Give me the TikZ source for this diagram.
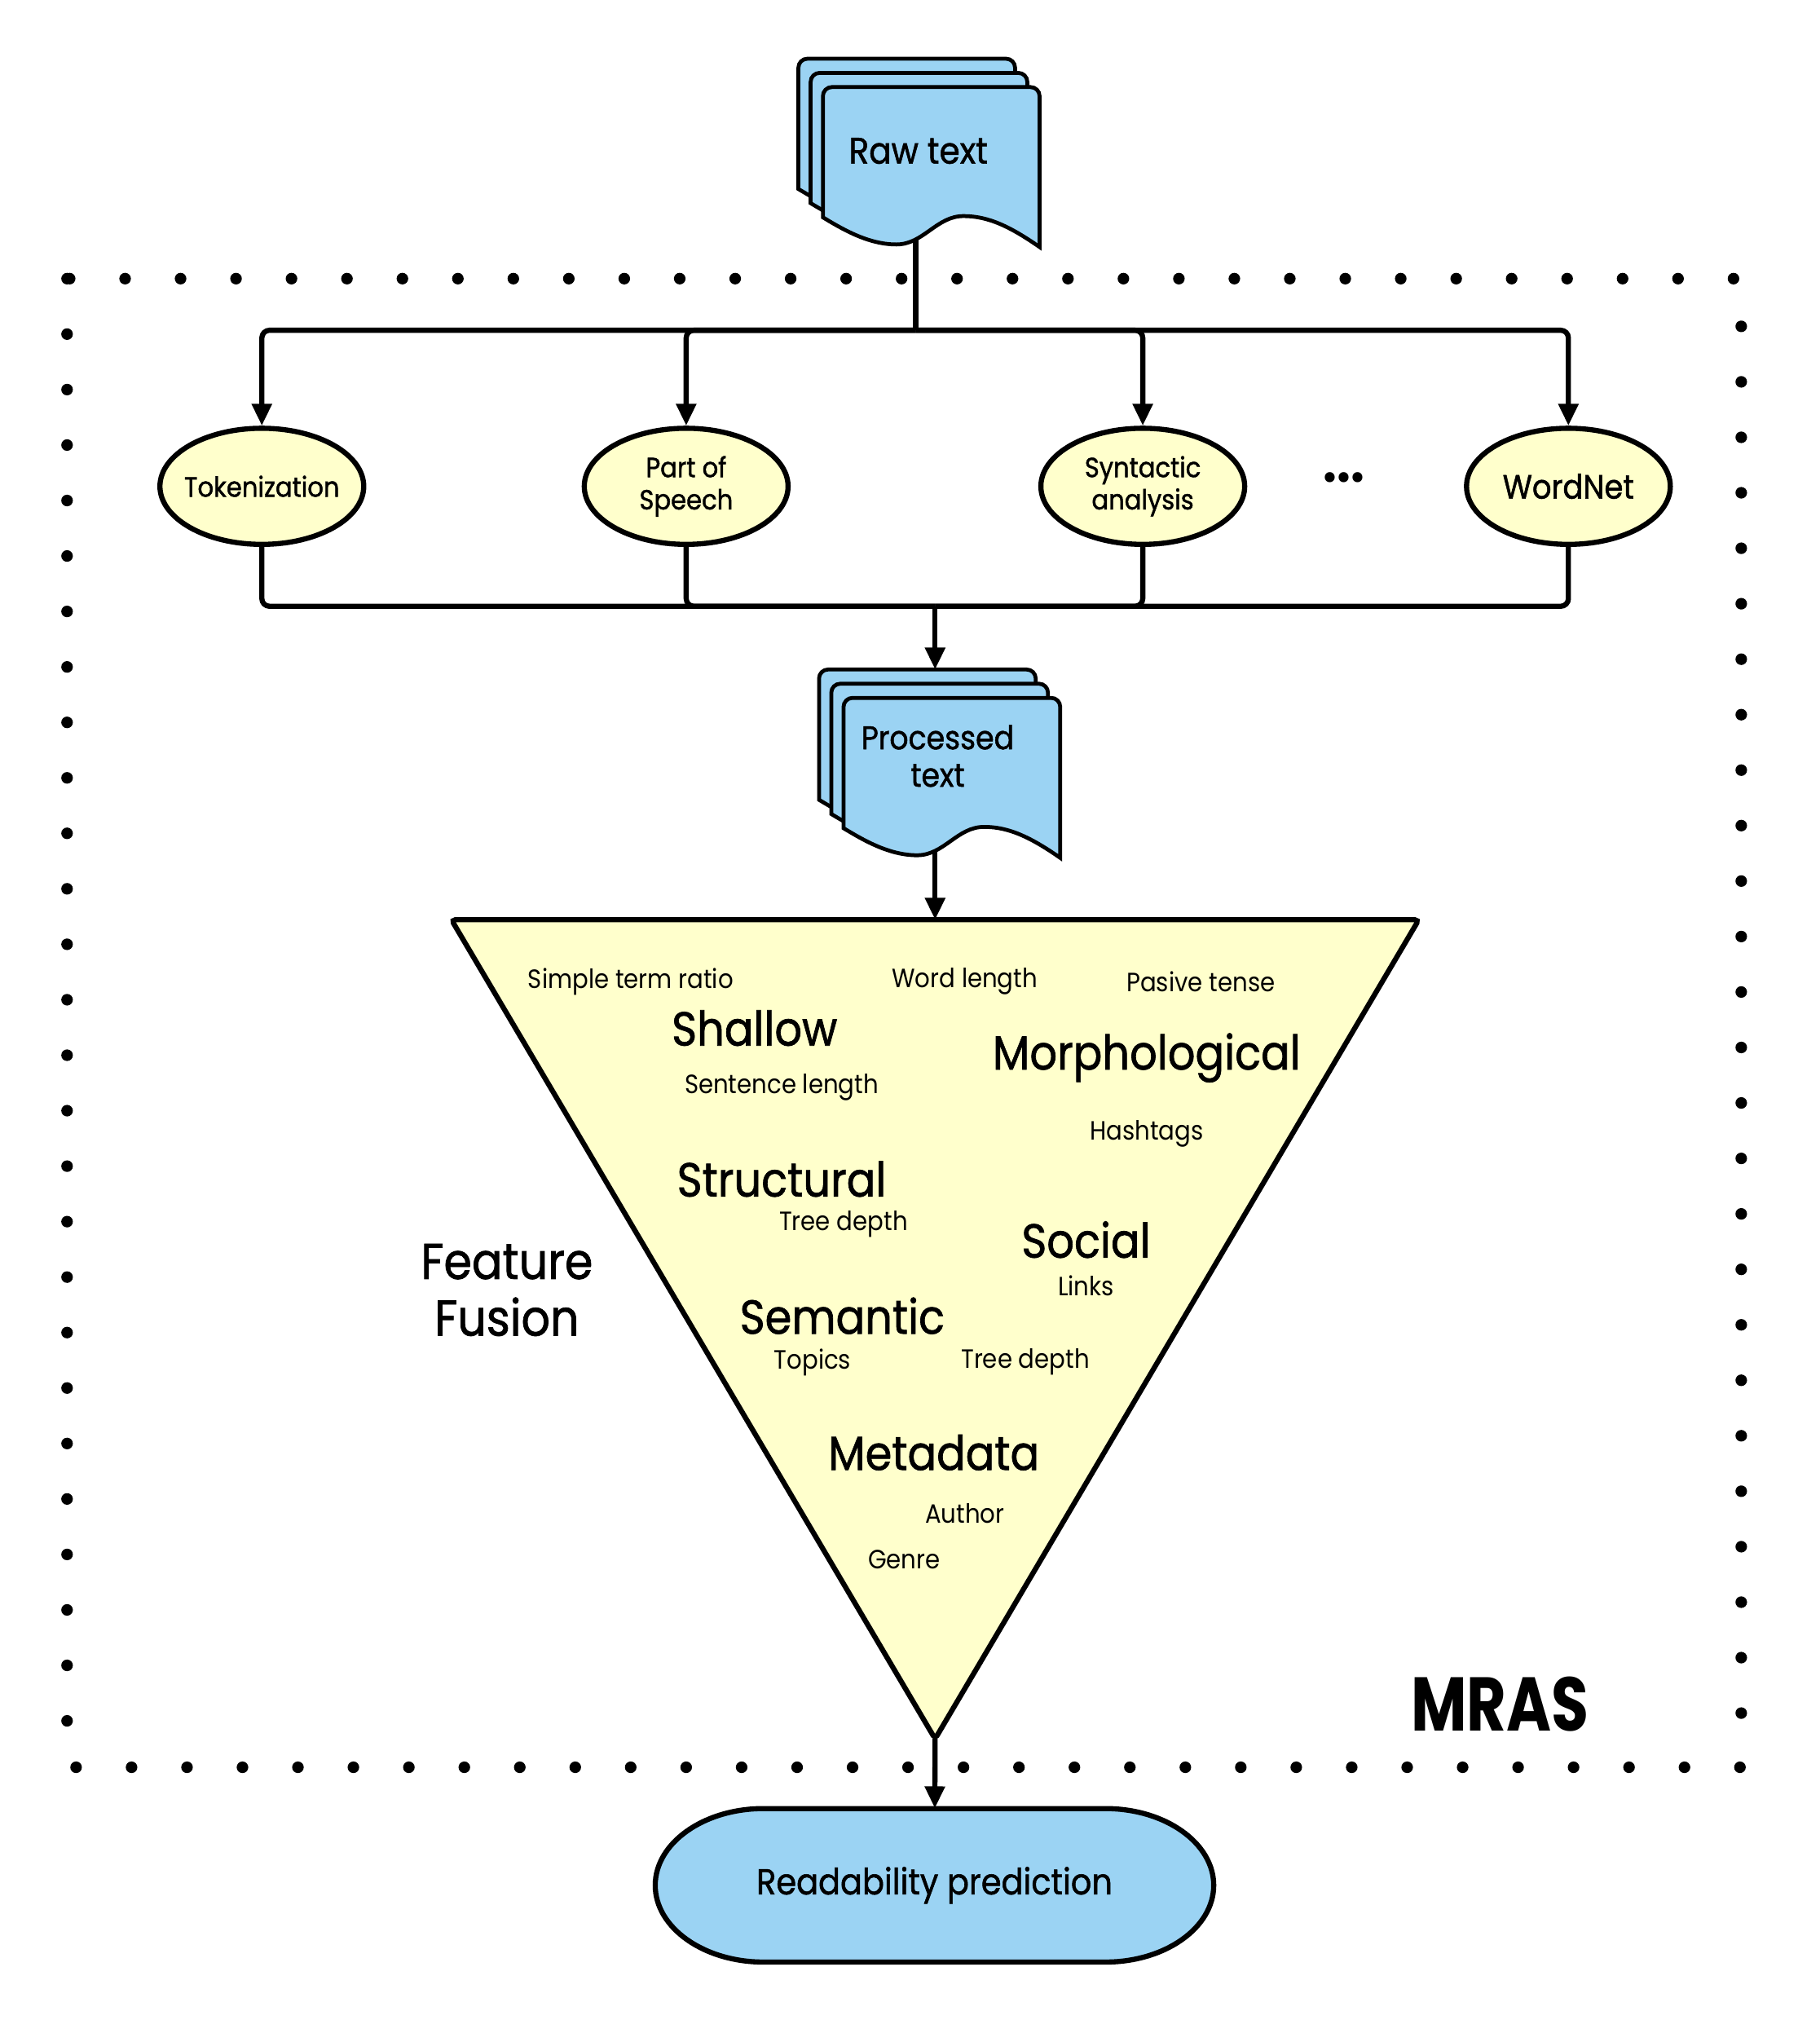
\documentclass[tikz,border=0pt]{standalone}
\usepackage{fontspec}
\setmainfont{Poppins}[FakeStretch=0.9]
\newfontfamily\medfont{Poppins}[FakeStretch=0.9, FakeBold=1.2]
\newfontfamily\mrasfont{Poppins}[FakeStretch=0.8]
\usetikzlibrary{positioning, arrows.meta, shapes.geometric}

\definecolor{docblue}{HTML}{9BD3F3}
\definecolor{toolyellow}{HTML}{FFFFCC}

% one page of a document stack, top left corner at (0,0)
\newcommand{\pagepath}{(0,-101) [rounded corners=7pt] -- (0,0) -- (168,0) [sharp corners] -- (168,-124)
  .. controls (145,-108) and (128,-100) .. (109,-100)
  .. controls (88,-100) and (78,-122) .. (57,-122)
  .. controls (35,-122) and (15,-110) .. (0,-101) -- cycle}
\newcommand{\docstack}[2]{%
  \foreach \k in {2,1,0}
    \draw[page, shift={(#1-9.5*\k,#2+11*\k)}] \pagepath;
}

\begin{document}
\begin{tikzpicture}[x=1pt, y=1pt, >={Triangle[length=17pt, width=15pt]},
    conn/.style={line width=4pt, rounded corners=6pt},
    page/.style={draw, line width=3pt, fill=docblue},
    tool/.style={draw, ellipse, line width=4pt, fill=toolyellow, minimum width=158pt, minimum height=90pt,
      inner xsep=-15pt, inner ysep=0pt, align=center, font=\fontsize{21.5}{25}\selectfont\medfont},
    feat/.style={font=\fontsize{20.5}{24}\selectfont},
    group/.style={font=\fontsize{37}{44}\selectfont\medfont},
    border/.style={line width=9pt, line cap=round, dash pattern=on 0pt off 43pt}]

  \useasboundingbox (0,0) rectangle (1411,-1576);

  % dotted MRAS frame
  \draw[border] (52,-216) rectangle (1350,-1370);
  \node[font=\fontsize{59}{70}\selectfont\mrasfont\bfseries] (mras) at (1163,-1321) {MRAS};

  % input and processed documents
  \docstack{638}{-67.5}
  \node[font=\fontsize{28.5}{34}\selectfont\medfont] (raw) at (712,-117) {Raw text};
  \coordinate (rawout) at (710,-185);
  \coordinate (split) at (710,-256);

  \docstack{654}{-541}
  \node[font=\fontsize{25.5}{29}\selectfont\medfont, align=center] (proc) at (727,-586) {Processed\\text};
  \coordinate (procin) at (725,-519);
  \coordinate (procout) at (725,-659);

  % tools
  \node[tool] (tok) at (203,-377) {Tokenization};
  \node[tool] (pos) at (532,-377) {Part of\\Speech};
  \node[tool] (syn) at (886,-377) {Syntactic\\analysis};
  \node[font=\fontsize{42}{48}\selectfont\bfseries] (more) at (1042,-370) {...};
  \node[tool, font=\fontsize{26}{30}\selectfont\medfont] (wn) at (1216,-377) {WordNet};
  \coordinate (merge) at (725,-470);

  \draw[conn] (rawout) -- (split);
  \foreach \n in {tok,pos,syn,wn}
    \draw[conn,->] (split) -| (\n);
  \foreach \n in {tok,pos,syn,wn}
    \draw[conn] (\n) |- (merge);
  \draw[conn,->] (merge) -- (procin);

  % feature fusion funnel
  \draw[line width=4pt, fill=toolyellow, rounded corners=3pt] (350,-713) -- (1100,-713) -- (725,-1348) -- cycle;
  \coordinate (ftop) at (725,-713);
  \coordinate (fapex) at (725,-1348);
  \draw[conn,->] (procout) -- (ftop);

  \node[feat] (simple) at (489,-761) {Simple term ratio};
  \node[feat] (wordlen) at (748,-761) {Word length};
  \node[feat] (pasive) at (931,-761) {Pasive tense};
  \node[group] (shallow) at (585,-797) {Shallow};
  \node[group] (morph) at (889,-820) {Morphological};
  \node[feat] (sentlen) at (606,-843) {Sentence length};
  \node[feat] (hashtags) at (889,-879) {Hashtags};
  \node[group] (struct) at (606,-914) {Structural};
  \node[feat] (depthA) at (654,-949) {Tree depth};
  \node[group] (social) at (842,-961) {Social};
  \node[feat] (links) at (842,-997) {Links};
  \node[group] (semantic) at (653,-1020) {Semantic};
  \node[feat] (topics) at (630,-1056) {Topics};
  \node[feat] (depthB) at (795,-1056) {Tree depth};
  \node[group] (meta) at (724,-1126) {Metadata};
  \node[feat] (author) at (748,-1173) {Author};
  \node[feat] (genre) at (701,-1209) {Genre};

  \node[font=\fontsize{39}{44}\selectfont\medfont, align=center] (fusion) at (393,-1000) {Feature\\Fusion};

  % output
  \draw[line width=4pt, fill=docblue] (592,-1402) -- (857,-1402)
    arc[start angle=90, end angle=-90, x radius=84, y radius=59.5] -- (592,-1521)
    arc[start angle=270, end angle=90, x radius=84, y radius=59.5] -- cycle;
  \node[font=\fontsize{28}{32}\selectfont\medfont, minimum width=433pt, minimum height=119pt] (pred) at (724.5,-1461.5) {Readability prediction};
  \draw[conn,->] (fapex) -- (pred);
\end{tikzpicture}
\end{document}
